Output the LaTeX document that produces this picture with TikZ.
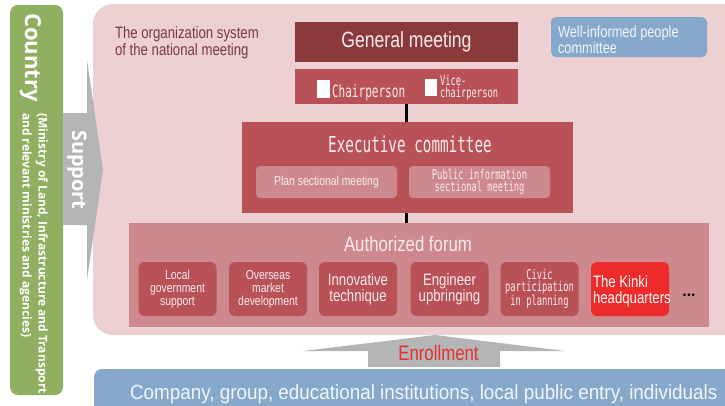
\documentclass[tikz,border=0pt]{standalone}
\usepackage{fontspec}
\setmainfont{Liberation Sans}
\newfontfamily\nar[FakeStretch=0.8]{Liberation Sans}
\newfontfamily\narb[FakeStretch=0.92]{Liberation Sans}
\newfontfamily\gth[FakeStretch=0.65]{DejaVu Sans Mono}
\newfontfamily\ptb{Open Sans}
\newcommand{\fsz}[2]{\fontsize{#1}{#2}\selectfont}
\definecolor{pinkbg}{HTML}{EDD0D2}
\definecolor{cgen}{HTML}{8B3A3C}
\definecolor{cmid}{HTML}{B85257}
\definecolor{clight}{HTML}{CD898D}
\definecolor{ckinki}{HTML}{EE2A2A}
\definecolor{cblue}{HTML}{86A8CA}
\definecolor{cgreen}{HTML}{8FB060}
\definecolor{agray}{HTML}{B4B5B7}
\definecolor{ctext}{HTML}{7A3A40}
\definecolor{cred}{HTML}{E8302F}
\definecolor{ltext}{HTML}{F6EBEC}
\definecolor{btext}{HTML}{F2F5F9}
\begin{document}
\begin{tikzpicture}[x=1pt,y=-1pt,
  box/.style={rectangle, inner sep=0pt, outer sep=0pt, align=center},
  lbl/.style={inner sep=0pt, outer sep=0pt},
  fbox/.style={box, fill=cmid, rounded corners=6pt, minimum width=78pt, minimum height=54pt, text=ltext},
  conn/.style={line width=3pt, black},
  sq/.style={box, fill=white, minimum width=13pt, minimum height=18pt},
  vtext/.style={lbl, rotate=-90, anchor=base west, text=white, font=\ptb\bfseries}
]
\useasboundingbox (0,0) rectangle (725,405);
\clip (0,0) rectangle (725,405);

% country column
\node[box, fill=cgreen, rounded corners=8pt, minimum width=53pt, minimum height=390pt, anchor=north west] (country) at (10,5) {};
\node[vtext, font=\ptb\bfseries\fsz{22}{22}] (ctry) at (25,13) {Country};
\node[vtext, font=\ptb\bfseries\fsz{12}{12}] (min1) at (38.5,113) {(Ministry of Land, Infrastructure and Transport};
\node[vtext, font=\ptb\bfseries\fsz{12}{12}] (min2) at (22.5,113) {and relevant ministries and agencies)};

% organization box
\node[box, fill=pinkbg, rounded corners=20pt, minimum width=660pt, minimum height=331pt, anchor=north west] (org) at (93,4) {};
\node[lbl, anchor=base west, font=\nar\fsz{16.5}{17}, text=ctext] (org1) at (115,38) {The organization system};
\node[lbl, anchor=base west, font=\nar\fsz{16.5}{17}, text=ctext] (org2) at (115,55) {of the national meeting};

% support arrow
\fill[agray] (63,113) -- (87,113) -- (87,60) -- (103,170) -- (87,280) -- (87,225) -- (63,225) -- cycle;
\node[vtext, font=\ptb\bfseries\fsz{20}{20}] (sup) at (72,130) {Support};

% general meeting
\node[box, fill=cgen, minimum width=223pt, minimum height=40pt, text=ltext, font=\nar\fsz{22}{24}] (gen) at (406.5,42) {General meeting};
\node[box, fill=cmid, minimum width=223pt, minimum height=35pt] (chair) at (406.5,86.5) {};
\node[sq] (sq1) at (323.5,89) {};
\node[sq, minimum width=12pt, minimum height=17pt] (sq2) at (431,87.5) {};
\node[lbl, anchor=base west, font=\gth\fsz{17}{17}, text=ltext] (chp) at (332,97) {Chairperson};
\node[lbl, anchor=base west, font=\gth\fsz{13.5}{12}, text=ltext] (vc1) at (440,85) {Vice-};
\node[lbl, anchor=base west, font=\gth\fsz{13.5}{12}, text=ltext] (vc2) at (440,97) {chairperson};

% well-informed
\node[box, fill=cblue, rounded corners=5pt, minimum width=156pt, minimum height=40pt] (well) at (629,37) {};
\node[lbl, anchor=base west, font=\nar\fsz{16}{16}, text=btext] (wl1) at (558,37) {Well-informed people};
\node[lbl, anchor=base west, font=\nar\fsz{16}{16}, text=btext] (wl2) at (558,53) {committee};

% executive committee
\node[box, fill=cmid, minimum width=331pt, minimum height=91pt] (exec) at (407.5,167.5) {};
\node[lbl, anchor=base, font=\gth\fsz{22}{22}, text=ltext] (exect) at (410,152) {Executive committee};
\node[box, fill=clight, rounded corners=4pt, minimum width=141pt, minimum height=32pt, font=\nar\fsz{13}{14}, text=ltext] (plan) at (326.5,182) {Plan sectional meeting};
\node[box, fill=clight, rounded corners=4pt, minimum width=141pt, minimum height=32pt, font=\gth\fsz{13.5}{12}, text=ltext] (pub) at (479.5,182) {Public information\\sectional meeting};

% authorized forum
\node[box, fill=clight, minimum width=580pt, minimum height=104pt, anchor=north west] (forum) at (129,223) {};
\node[lbl, anchor=base, font=\nar\fsz{21}{21}, text=ltext] (forumt) at (408,251.5) {Authorized forum};
\node[fbox, font=\nar\fsz{13}{13}] (f1) at (177.5,289) {Local\\government\\support};
\node[fbox, font=\nar\fsz{13}{13}] (f2) at (268,289) {Overseas\\market\\development};
\node[fbox, font=\nar\fsz{16.5}{15.5}] (f3) at (358,289) {Innovative\\technique};
\node[fbox, font=\nar\fsz{16.5}{15.5}] (f4) at (449.5,289) {Engineer\\upbringing};
\node[fbox, font=\gth\fsz{13.5}{12}] (f5) at (539.5,289) {Civic\\participation\\in planning};
\node[fbox, fill=ckinki] (f6) at (630,289) {};
\node[lbl, anchor=west, align=left, font=\nar\fsz{16.5}{15.5}, text=white] (f6t) at (593,291) {The Kinki\\headquarters};
\node[lbl, anchor=base, font=\bfseries\fsz{16}{16}] (dots) at (689,296) {...};

% connectors
\draw[conn] (chair.south) -- (chair.south |- exec.north);
\draw[conn] (exec.south -| chair.south) -- (chair.south |- forum.north);

% enrollment arrow
\fill[agray] (368,367) -- (368,351) -- (303,351) -- (435,335) -- (565,351) -- (500,351) -- (500,367) -- cycle;
\node[lbl, anchor=base, font=\nar\fsz{21}{21}, text=cred] (enr) at (438.5,360) {Enrollment};

% entrants
\node[box, fill=cblue, rounded corners=8pt, minimum width=660pt, minimum height=60pt, anchor=north west] (ent) at (94,369) {};
\node[lbl, anchor=base west, font=\narb\fsz{20.5}{21}, text=btext] (entt) at (130,399) {Company, group, educational institutions, local public entry, individuals};
\end{tikzpicture}
\end{document}
